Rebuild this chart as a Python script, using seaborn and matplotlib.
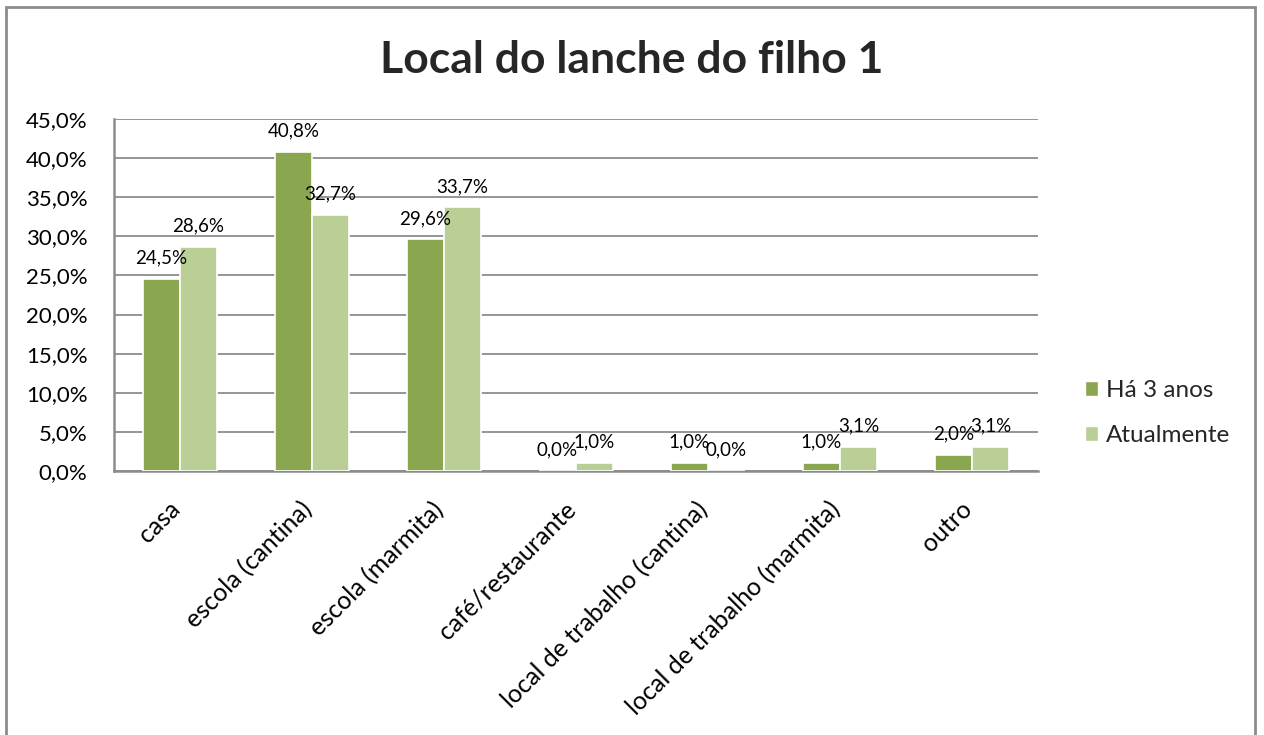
import matplotlib
matplotlib.use("Agg")
import matplotlib.pyplot as plt
import matplotlib.patches as mpatches
import matplotlib.transforms as mtransforms
from matplotlib.ticker import FuncFormatter, MultipleLocator
import pandas as pd
import seaborn as sns

# Data
categories = ["casa", "escola (cantina)", "escola (marmita)", "café/restaurante",
              "local de trabalho (cantina)", "local de trabalho (marmita)", "outro"]
ha_3_anos = [24.5, 40.8, 29.6, 0.0, 1.0, 1.0, 2.0]
atualmente = [28.6, 32.7, 33.7, 1.0, 0.0, 3.1, 3.1]
series_names = ["Há 3 anos", "Atualmente"]
colors = ["#8AA64F", "#B9CF96"]
title = "Local do lanche do filho 1"

df = pd.DataFrame({
    "local": categories * 2,
    "serie": [series_names[0]] * len(categories) + [series_names[1]] * len(categories),
    "valor": ha_3_anos + atualmente,
})

sns.set_theme(style="white")
plt.rcParams["font.family"] = ["Lato", "DejaVu Sans"]

fig = plt.figure(figsize=(12.64, 7.35), dpi=100)
ax = fig.add_axes([0.0902, 0.3592, 0.7310, 0.4789])

sns.barplot(data=df, x="local", y="valor", hue="serie", palette=colors,
            saturation=1, width=0.56, edgecolor="white", linewidth=1.2, ax=ax,
            legend=False, zorder=3)

ax.set_ylim(0, 45)
ax.set_xlim(-0.5, len(categories) - 0.5)
ax.yaxis.set_major_locator(MultipleLocator(5))
ax.yaxis.set_major_formatter(FuncFormatter(lambda v, _: f"{v:.1f}%".replace(".", ",")))
ax.grid(axis="y", color="#8C8C8C", linewidth=1.3, zorder=0)
ax.set_axisbelow(True)
for side in ["top", "right"]:
    ax.spines[side].set_visible(False)
for side in ["left", "bottom"]:
    ax.spines[side].set_color("#8C8C8C")
    ax.spines[side].set_linewidth(1.8)
ax.tick_params(axis="y", length=0, labelsize=16, pad=19, colors="black")
ax.tick_params(axis="x", length=0, labelsize=18, pad=19, colors="black")
ax.set_xlabel("")
ax.set_ylabel("")
shift = mtransforms.ScaledTranslation(-12 / 100, 0, fig.dpi_scale_trans)
for lbl in ax.get_xticklabels():
    lbl.set_rotation(45)
    lbl.set_ha("right")
    lbl.set_rotation_mode("anchor")
    lbl.set_transform(lbl.get_transform() + shift)

# Value labels above each bar
for container in ax.containers:
    labels = [f"{b.get_height():.1f}%".replace(".", ",") for b in container]
    ax.bar_label(container, labels=labels, padding=9, fontsize=13.5, color="black")

# Legend
handles = [mpatches.Patch(facecolor=c, edgecolor="white", label=n)
           for c, n in zip(colors, series_names)]
fig.legend(handles=handles, loc="center left", bbox_to_anchor=(0.841, 0.438),
           frameon=False, fontsize=17.5, handlelength=0.55, handleheight=0.55,
           handletextpad=0.3, labelspacing=1.0)

fig.text(0.5, 0.918, title, ha="center", va="center", fontsize=32, fontweight="bold")

# Outer chart frame
frame = mpatches.Rectangle((6 / 1264, -0.05), (1255 - 6) / 1264, 1 - 7 / 735 + 0.05,
                           transform=fig.transFigure, fill=False,
                           edgecolor="#8C8C8C", linewidth=2)
fig.patches.append(frame)

fig.savefig("out.png", dpi=100, facecolor="white")
